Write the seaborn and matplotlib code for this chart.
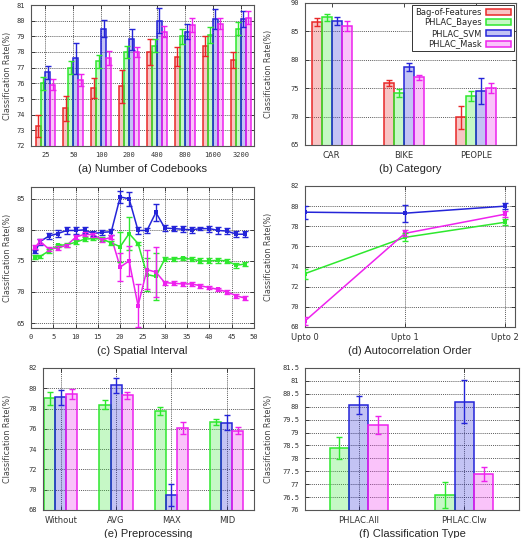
import pandas as pd
import matplotlib
matplotlib.use("Agg")
import matplotlib.pyplot as plt
import seaborn as sns
from matplotlib.colors import to_rgba
from matplotlib.patches import Patch
from matplotlib.ticker import MultipleLocator, FormatStrFormatter

sns.set_style("ticks")
plt.rcParams["font.family"] = ["DejaVu Sans"]

methods = ["Bag-of-Features", "PHLAC_Bayes", "PHLAC_SVM", "PHLAC_Mask"]
edge = {"Bag-of-Features": "#e82828", "PHLAC_Bayes": "#2ee82e",
        "PHLAC_SVM": "#2424d8", "PHLAC_Mask": "#ee22ee"}

# (a) number of codebooks
codebooks = ["25", "50", "100", "200", "400", "800", "1600", "3200"]
a_bof = [73.3, 74.4, 75.7, 75.8, 78.0, 77.7, 78.4, 77.5]
a_bof_err = [0.7, 0.8, 0.65, 1.05, 0.8, 0.6, 0.65, 0.5]
a_bayes = [76.0, 77.0, 77.4, 78.0, 78.4, 79.0, 79.1, 79.5]
a_bayes_err = [0.4, 0.4, 0.4, 0.4, 0.4, 0.5, 0.5, 0.4]
a_svm = [76.7, 77.6, 79.5, 78.8, 80.0, 79.3, 80.1, 80.1]
a_svm_err = [0.4, 1.0, 0.55, 0.7, 0.8, 0.5, 0.65, 0.5]
a_mask = [75.9, 76.2, 77.6, 78.0, 79.3, 79.7, 79.8, 80.2]
a_mask_err = [0.35, 0.4, 0.45, 0.3, 0.35, 0.45, 0.35, 0.4]

# (b) category
categories = ["CAR", "BIKE", "PEOPLE"]
b_bof = [86.6, 75.9, 69.9]
b_bof_err = [0.7, 0.6, 2.0]
b_bayes = [87.5, 74.1, 73.6]
b_bayes_err = [0.6, 0.7, 0.9]
b_svm = [86.9, 78.8, 74.5]
b_svm_err = [0.7, 0.7, 2.3]
b_mask = [86.0, 76.9, 75.0]
b_mask_err = [0.9, 0.4, 0.9]

# (c) spatial interval
intervals = [1, 2, 4, 6, 8, 10, 12, 14, 16, 18, 20, 22, 24, 26, 28,
             30, 32, 34, 36, 38, 40, 42, 44, 46, 48]
c_svm = [76.5, 78.1, 79.0, 79.4, 79.9, 79.9, 80.0, 79.4, 79.6, 79.7, 85.3, 85.0, 79.9,
         79.9, 82.8, 80.3, 80.2, 80.1, 80.0, 80.2, 80.2, 79.9, 79.8, 79.3, 79.3]
c_svm_err = [0.3, 0.5, 0.5, 0.5, 0.5, 0.5, 0.5, 0.4, 0.4, 0.5, 1.0, 1.1, 0.5,
             0.4, 1.3, 0.5, 0.4, 0.5, 0.5, 0.3, 0.5, 0.5, 0.5, 0.5, 0.5]
c_bayes = [75.6, 75.7, 76.6, 77.5, 77.6, 78.0, 78.5, 78.6, 78.5, 77.9, 77.3, 79.4, 77.8,
           72.8, 72.5, 75.3, 75.3, 75.4, 75.3, 75.0, 75.0, 75.1, 75.0, 74.3, 74.5]
c_bayes_err = [0.3, 0.3, 0.3, 0.3, 0.3, 0.3, 0.3, 0.3, 0.3, 0.3, 2.4, 2.6, 0.3,
               2.7, 3.8, 0.3, 0.3, 0.3, 0.3, 0.4, 0.4, 0.4, 0.3, 0.4, 0.3]
c_mask = [77.2, 78.2, 76.9, 77.1, 77.5, 78.8, 79.3, 79.2, 78.4, 78.8, 74.0, 75.0, 67.8,
          73.6, 73.2, 71.5, 71.4, 71.3, 71.3, 71.0, 70.7, 70.4, 70.0, 69.4, 69.0]
c_mask_err = [0.3, 0.4, 0.3, 0.3, 0.3, 0.3, 0.3, 0.3, 0.3, 0.3, 2.2, 2.4, 3.5,
              3.2, 4.0, 0.3, 0.3, 0.3, 0.3, 0.3, 0.3, 0.3, 0.3, 0.3, 0.3]

# (d) autocorrelation order
orders = ["Upto 0", "Upto 1", "Upto 2"]
d_svm = [79.4, 79.3, 80.0]
d_svm_err = [0.65, 0.85, 0.3]
d_bayes = [73.3, 76.9, 78.4]
d_bayes_err = [0.5, 0.4, 0.3]
d_mask = [68.6, 77.3, 79.2]
d_mask_err = [0.4, 0.3, 0.3]

# (e) preprocessing
preprocs = ["Without", "AVG", "MAX", "MID"]
e_bayes = [79.0, 78.4, 77.8, 76.7]
e_bayes_err = [0.6, 0.4, 0.4, 0.3]
e_svm = [79.1, 80.3, 69.5, 76.6]
e_svm_err = [0.7, 0.75, 1.1, 0.75]
e_mask = [79.4, 79.3, 76.1, 75.8]
e_mask_err = [0.5, 0.35, 0.6, 0.35]

# (f) classification type
ctypes = ["PHLAC.All", "PHLAC.Clw"]
f_bayes = [78.4, 76.58]
f_bayes_err = [0.42, 0.52]
f_svm = [80.05, 80.2]
f_svm_err = [0.35, 0.82]
f_mask = [79.28, 77.4]
f_mask_err = [0.35, 0.28]

W, H = 523, 538
fig = plt.figure(figsize=(W / 100, H / 100), dpi=100)


def add_ax(left, right, top, bottom):
    return fig.add_axes([left / W, 1 - bottom / H, (right - left) / W, (bottom - top) / H])


def long_df(cats, series):
    rows = [{"cat": c, "method": m, "rate": v}
            for m, (vals, errs) in series.items() for c, v in zip(cats, vals)]
    return pd.DataFrame(rows)


def bars(ax, cats, series, width):
    names = list(series)
    sns.barplot(data=long_df(cats, series), x="cat", y="rate", hue="method",
                order=cats, hue_order=names, palette=edge, width=width, gap=0,
                saturation=1, errorbar=None, legend=False, linewidth=1.1, ax=ax, zorder=2)
    for cont, name in zip(list(ax.containers), names):
        vals, errs = series[name]
        for bar, v, e in zip(cont, vals, errs):
            bar.set_facecolor(to_rgba(edge[name], 0.27))
            bar.set_edgecolor(edge[name])
            ax.errorbar(bar.get_x() + bar.get_width() / 2, v, yerr=e, color=edge[name],
                        lw=1, capsize=2, capthick=1, zorder=3)


def lines(ax, xs, series):
    names = list(series)
    df = long_df(xs, series)
    sns.lineplot(data=df, x="cat", y="rate", hue="method", hue_order=names, palette=edge,
                 lw=1.1, marker="s", markersize=2.5, markeredgewidth=0, errorbar=None,
                 legend=False, ax=ax, zorder=3)
    for name in names:
        vals, errs = series[name]
        ax.errorbar(xs, vals, yerr=errs, fmt="none", ecolor=edge[name], lw=1,
                    capsize=2, capthick=1, zorder=3)


def style(ax, title, lab_x, word_ticks=False, xgrid=True):
    ax.set_axisbelow(True)
    grid_kw = dict(color="#222222", lw=0.5, ls=(0, (1.5, 1.5)))
    ax.grid(axis="y", **grid_kw)
    if xgrid:
        ax.grid(axis="x", **grid_kw)
    for s in ax.spines.values():
        s.set_color("#555555")
        s.set_linewidth(0.8)
    ax.tick_params(direction="in", length=3, width=0.6, labelsize=5, labelcolor="#333333",
                   top=True, right=True, pad=4)
    for t in ax.get_yticklabels():
        t.set_family("DejaVu Sans Mono")
    for t in ax.get_xticklabels():
        if word_ticks:
            t.set_fontsize(6)
        else:
            t.set_family("DejaVu Sans Mono")
    ax.set_xlabel(title, fontsize=8, family="Liberation Sans", labelpad=3 if word_ticks else 5)
    ax.set_ylabel("Classification Rate(%)", fontsize=5.8, color="#444444")
    ax.yaxis.set_label_coords(lab_x, 0.5)


# (a)
ax = add_ax(31, 254, 5, 146)
bars(ax, codebooks, {"Bag-of-Features": (a_bof, a_bof_err), "PHLAC_Bayes": (a_bayes, a_bayes_err),
                     "PHLAC_SVM": (a_svm, a_svm_err), "PHLAC_Mask": (a_mask, a_mask_err)}, 0.71)
ax.set_xlim(-0.52, 7.48)
ax.set_ylim(72, 81)
ax.yaxis.set_major_locator(MultipleLocator(1))
style(ax, "(a) Number of Codebooks", (12 - 31) / 223)

# (b)
ax = add_ax(305, 516, 3, 145)
bars(ax, categories, {"Bag-of-Features": (b_bof, b_bof_err), "PHLAC_Bayes": (b_bayes, b_bayes_err),
                      "PHLAC_SVM": (b_svm, b_svm_err), "PHLAC_Mask": (b_mask, b_mask_err)}, 0.55)
ax.set_xlim(-0.37, 2.55)
ax.set_ylim(65, 90)
ax.yaxis.set_major_locator(MultipleLocator(5))
style(ax, "(b) Category", (273 - 305) / 211, word_ticks=True, xgrid=False)
handles = [Patch(facecolor=to_rgba(edge[m], 0.27), edgecolor=edge[m], lw=1.1) for m in methods]
leg = ax.legend(handles, methods, loc="upper right", markerfirst=False, fancybox=False,
                fontsize=6, handlelength=3.0, handleheight=0.7, labelspacing=0.2,
                borderaxespad=0.25, borderpad=0.3, handletextpad=0.6, framealpha=1)
leg.get_frame().set_edgecolor("#333333")
leg.get_frame().set_linewidth(0.7)

# (c)
ax = add_ax(31, 254, 187, 328)
lines(ax, intervals, {"PHLAC_Bayes": (c_bayes, c_bayes_err), "PHLAC_SVM": (c_svm, c_svm_err),
                      "PHLAC_Mask": (c_mask, c_mask_err)})
ax.set_xlim(0, 50)
ax.set_ylim(64.2, 86.9)
ax.xaxis.set_major_locator(MultipleLocator(5))
ax.yaxis.set_major_locator(MultipleLocator(5))
style(ax, "(c) Spatial Interval", (12 - 31) / 223)

# (d)
ax = add_ax(305, 515, 186, 327)
order_pos = list(range(len(orders)))
lines(ax, order_pos, {"PHLAC_Bayes": (d_bayes, d_bayes_err), "PHLAC_SVM": (d_svm, d_svm_err),
                      "PHLAC_Mask": (d_mask, d_mask_err)})
ax.set_xticks(order_pos, orders)
ax.set_xlim(0, 2.1)
ax.set_ylim(68, 82)
ax.yaxis.set_major_locator(MultipleLocator(2))
style(ax, "(d) Autocorrelation Order", (273 - 305) / 210, word_ticks=True)

# (e)
ax = add_ax(43, 254, 368, 510)
bars(ax, preprocs, {"PHLAC_Bayes": (e_bayes, e_bayes_err), "PHLAC_SVM": (e_svm, e_svm_err),
                    "PHLAC_Mask": (e_mask, e_mask_err)}, 0.6)
ax.set_xlim(-0.32, 3.49)
ax.set_ylim(68, 82)
ax.yaxis.set_major_locator(MultipleLocator(2))
style(ax, "(e) Preprocessing", (12 - 43) / 211, word_ticks=True)

# (f)
ax = add_ax(305, 519, 368, 510)
bars(ax, ctypes, {"PHLAC_Bayes": (f_bayes, f_bayes_err), "PHLAC_SVM": (f_svm, f_svm_err),
                  "PHLAC_Mask": (f_mask, f_mask_err)}, 0.55)
ax.set_xlim(-0.51, 1.52)
ax.set_ylim(76, 81.5)
ax.yaxis.set_major_locator(MultipleLocator(0.5))
ax.yaxis.set_major_formatter(FormatStrFormatter("%g"))
style(ax, "(f) Classification Type", (273 - 305) / 214, word_ticks=True)

fig.savefig("out.png", dpi=100)
